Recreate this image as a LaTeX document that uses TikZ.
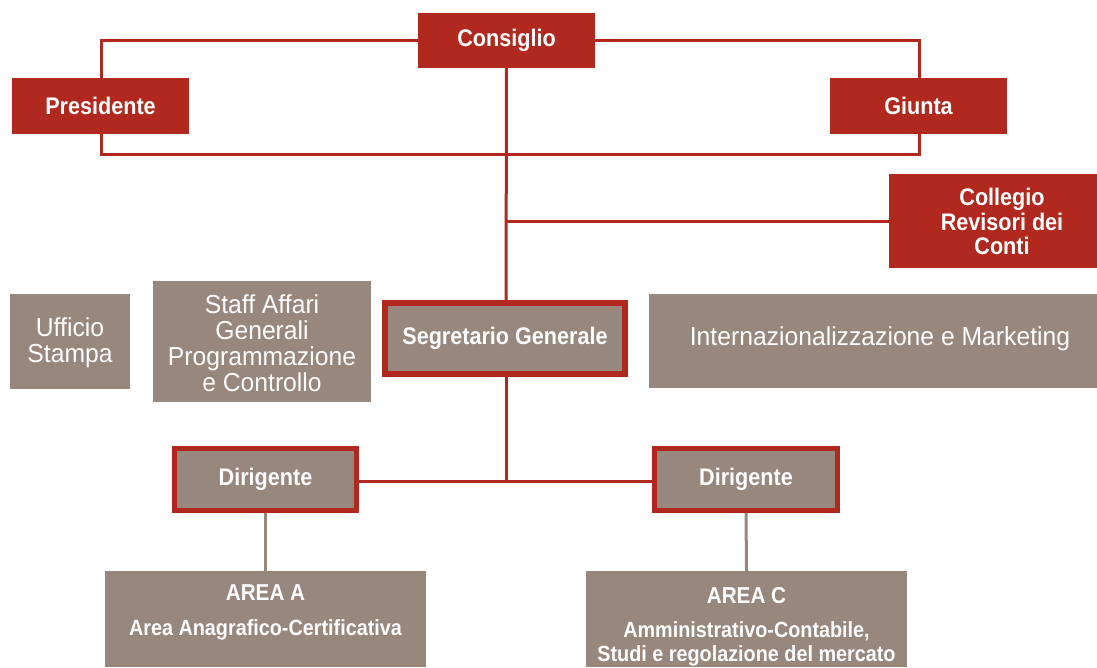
\documentclass[tikz,border=0pt]{standalone}
\usepackage{fontspec}
\newfontfamily\condbf[FakeStretch=0.9]{Liberation Sans Bold}
\newfontfamily\condrg[FakeStretch=0.95]{Liberation Sans}
\definecolor{cred}{HTML}{B1291E}
\definecolor{cgrey}{HTML}{98877D}
\tikzset{
  redbox/.style={fill=cred, draw=none, inner sep=0pt, text=white, font=\condbf\fontsize{24}{24.5}\selectfont, align=center},
  greybox/.style={fill=cgrey, draw=none, inner sep=0pt},
  framedbox/.style={fill=cgrey, draw=cred, inner sep=0pt, text=white, font=\condbf\fontsize{24}{26}\selectfont},
  lighttxt/.style={text=white, inner sep=0pt, align=center, font=\condrg\fontsize{26}{26}\selectfont},
  boldtxt/.style={text=white, inner sep=0pt, align=center, font=\condbf\fontsize{22}{24}\selectfont},
  titletxt/.style={text=white, inner sep=0pt, font=\condbf\fontsize{23}{24}\selectfont},
  redline/.style={draw=cred, line width=3pt},
  greyline/.style={draw=cgrey, line width=3pt}
}
\begin{document}
\begin{tikzpicture}[x=1pt, y=-1pt]
\useasboundingbox (0,0) rectangle (1097,667);
% connector corners
\coordinate (bl) at (101,154);
\coordinate (br) at (919,154);
\coordinate (cc) at (506.5,40.5);
\coordinate (jcoll) at (506,221);
\coordinate (jdir) at (506,481);
\coordinate (segc) at (506,338.5);
% loop behind top boxes
\draw[redline] (cc) -| (bl) -- (br) |- (cc);
% main vertical
\draw[redline] (cc) -- (segc);
\draw[redline] (segc) -- (jdir);
\draw[redline] (jcoll) -- (993,221);
\draw[redline] (jdir) -- (265.5,481);
\draw[redline] (jdir) -- (746,481);
% top boxes
\node[redbox, minimum width=177, minimum height=55] (cons) at (cc) {Consiglio};
\node[redbox, minimum width=177, minimum height=56] (pres) at (100.5,106) {Presidente};
\node[redbox, minimum width=177, minimum height=56] (giunta) at (918.5,106) {Giunta};
\node[redbox, minimum width=208, minimum height=94] (coll) at (993,221) {};
\node[boldtxt, font=\condbf\fontsize{24}{24.5}\selectfont] (colltxt) at (1002,221.5) {Collegio\\Revisori dei\\Conti};
% staff row
\node[greybox, minimum width=120, minimum height=95] (uff) at (70,341.5) {};
\node[lighttxt] (ufftxt) at (70,343) {Ufficio\\Stampa};
\node[greybox, minimum width=218, minimum height=121] (staff) at (262,341.5) {};
\node[lighttxt] (stafftxt) at (262,343) {Staff Affari\\Generali\\Programmazione\\e Controllo};
\node[greybox, minimum width=448, minimum height=94] (intl) at (873,341) {};
\node[lighttxt] (intltxt) at (880,339) {Internazionalizzazione e Marketing};
\node[framedbox, line width=6pt, minimum width=240, minimum height=71] (seg) at (505,338.5) {Segretario Generale};
% dirigenti
\node[framedbox, line width=5pt, minimum width=182, minimum height=62] (dirA) at (265.5,479.5) {Dirigente};
\node[framedbox, line width=5pt, minimum width=183, minimum height=62] (dirC) at (746,479.5) {Dirigente};
% areas
\node[greybox, minimum width=321, minimum height=96] (areaA) at (265.5,619) {};
\node[greybox, minimum width=321, minimum height=96] (areaC) at (746.5,619) {};
\draw[greyline] (dirA.south) -- (areaA.north);
\draw[greyline] (dirC.south) -- (areaC.north);
\node[titletxt] (areaAt) at (265.5,593) {AREA A};
\node[boldtxt] (areaAs) at (265.5,630) {Area Anagrafico-Certificativa};
\node[titletxt] (areaCt) at (746.5,596) {AREA C};
\node[boldtxt] (areaCs) at (746.5,644) {Amministrativo-Contabile,\\Studi e regolazione del mercato};
\end{tikzpicture}
\end{document}
